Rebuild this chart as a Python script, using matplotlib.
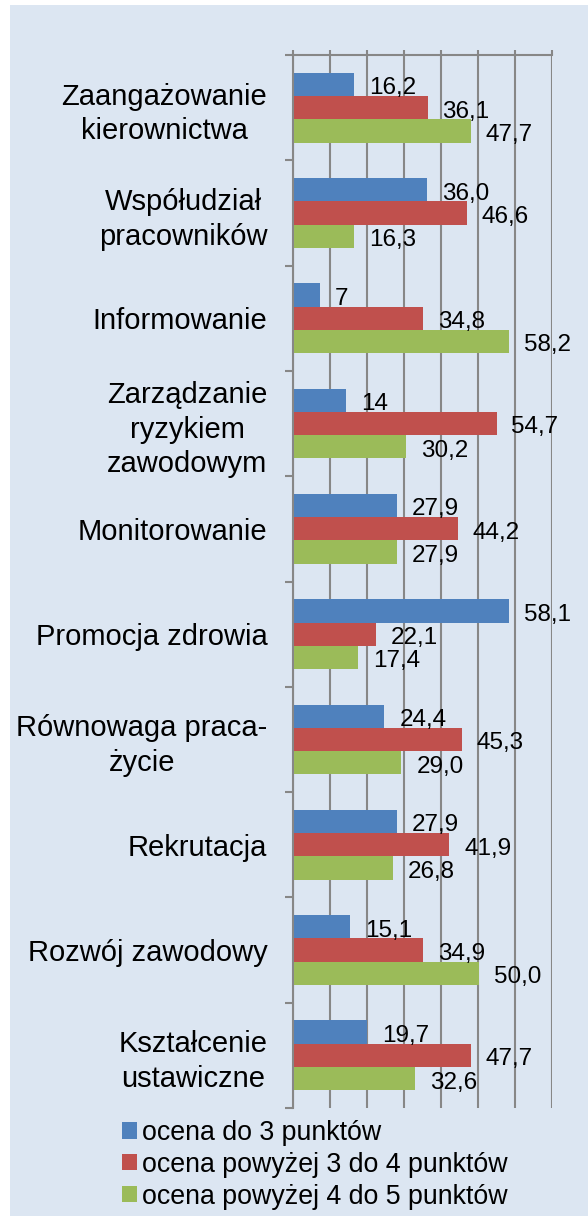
import numpy as np
import matplotlib
matplotlib.use("Agg")
import matplotlib.pyplot as plt
from matplotlib.patches import Patch, Rectangle

plt.rcParams['font.family'] = ['Liberation Sans', 'DejaVu Sans']

# data
categories = [
    "Zaangażowanie\nkierownictwa",
    "Współudział\npracowników",
    "Informowanie",
    "Zarządzanie\nryzykiem\nzawodowym",
    "Monitorowanie",
    "Promocja zdrowia",
    "Równowaga praca-\nżycie",
    "Rekrutacja",
    "Rozwój zawodowy",
    "Kształcenie\nustawiczne",
]
series_names = [
    "ocena do 3 punktów",
    "ocena powyżej 3 do 4 punktów",
    "ocena powyżej 4 do 5 punktów",
]
do_3 = [16.2, 36.0, 7, 14, 27.9, 58.1, 24.4, 27.9, 15.1, 19.7]
od_3_do_4 = [36.1, 46.6, 34.8, 54.7, 44.2, 22.1, 45.3, 41.9, 34.9, 47.7]
od_4_do_5 = [47.7, 16.3, 58.2, 30.2, 27.9, 17.4, 29.0, 26.8, 50.0, 32.6]
labels_do_3 = ["16,2", "36,0", "7", "14", "27,9", "58,1", "24,4", "27,9", "15,1", "19,7"]
labels_3_4 = ["36,1", "46,6", "34,8", "54,7", "44,2", "22,1", "45,3", "41,9", "34,9", "47,7"]
labels_4_5 = ["47,7", "16,3", "58,2", "30,2", "27,9", "17,4", "29,0", "26,8", "50,0", "32,6"]

colors = ["#4F81BD", "#C0504D", "#9BBB59"]
bg = "#DCE6F2"
grid_col = "#878787"
fs_val = 17.5
fs_cat = 21
fs_leg = 19.3

fig = plt.figure(figsize=(5.88, 12.16), dpi=100, facecolor="white")
fig.patches.append(Rectangle((10 / 588, 0), 1, 1 - 5 / 1216, transform=fig.transFigure,
                             facecolor=bg, edgecolor="none", zorder=-10))

ax = fig.add_axes([293 / 588, 1 - 1108 / 1216, (552 - 293) / 588, (1108 - 55) / 1216])
ax.set_facecolor("none")

y = np.arange(len(categories))
h = 0.221
all_vals = [do_3, od_3_do_4, od_4_do_5]
all_labels = [labels_do_3, labels_3_4, labels_4_5]
for k in range(3):
    pos = y + (k - 1) * h
    ax.barh(pos, all_vals[k], height=h, color=colors[k], left=0.3, zorder=3)
    for p, v, t in zip(pos, all_vals[k], all_labels[k]):
        ax.annotate(t, (v, p), xytext=(11.5, -1), textcoords="offset points",
                    va="center_baseline", ha="left", fontsize=fs_val, zorder=4)

ax.set_xlim(0, 70)
ax.set_ylim(len(categories) - 0.5, -0.5)

ax.xaxis.tick_top()
ax.set_xticks(np.arange(0, 71, 10))
ax.set_xticklabels([])
ax.tick_params(axis="x", direction="out", length=3.6, width=1.5, color=grid_col)
ax.grid(axis="x", color=grid_col, linewidth=1.5, zorder=0)
ax.set_axisbelow(True)

ax.set_yticks(y)
ax.set_yticklabels(categories, fontsize=fs_cat, ha="right", multialignment="center",
                   linespacing=1.3)
ax.set_yticks(np.arange(-0.5, len(categories), 1), minor=True)
ax.tick_params(axis="y", which="major", length=0, pad=18.5)
ax.tick_params(axis="y", which="minor", length=5.8, width=1.5, color=grid_col)

for s in ["right", "bottom"]:
    ax.spines[s].set_visible(False)
for s in ["top", "left"]:
    ax.spines[s].set_color(grid_col)
    ax.spines[s].set_linewidth(1.5)

handles = [Patch(facecolor=c, edgecolor="none") for c in colors]
fig.legend(handles, series_names, loc="upper left", bbox_to_anchor=(122 / 588, 1 - 1120 / 1216),
           frameon=False, fontsize=fs_leg, handlelength=0.55, handleheight=0.55,
           handletextpad=0.2, labelspacing=0.22, borderaxespad=0, borderpad=0)

fig.savefig("out.png", dpi=100, facecolor=fig.get_facecolor())
